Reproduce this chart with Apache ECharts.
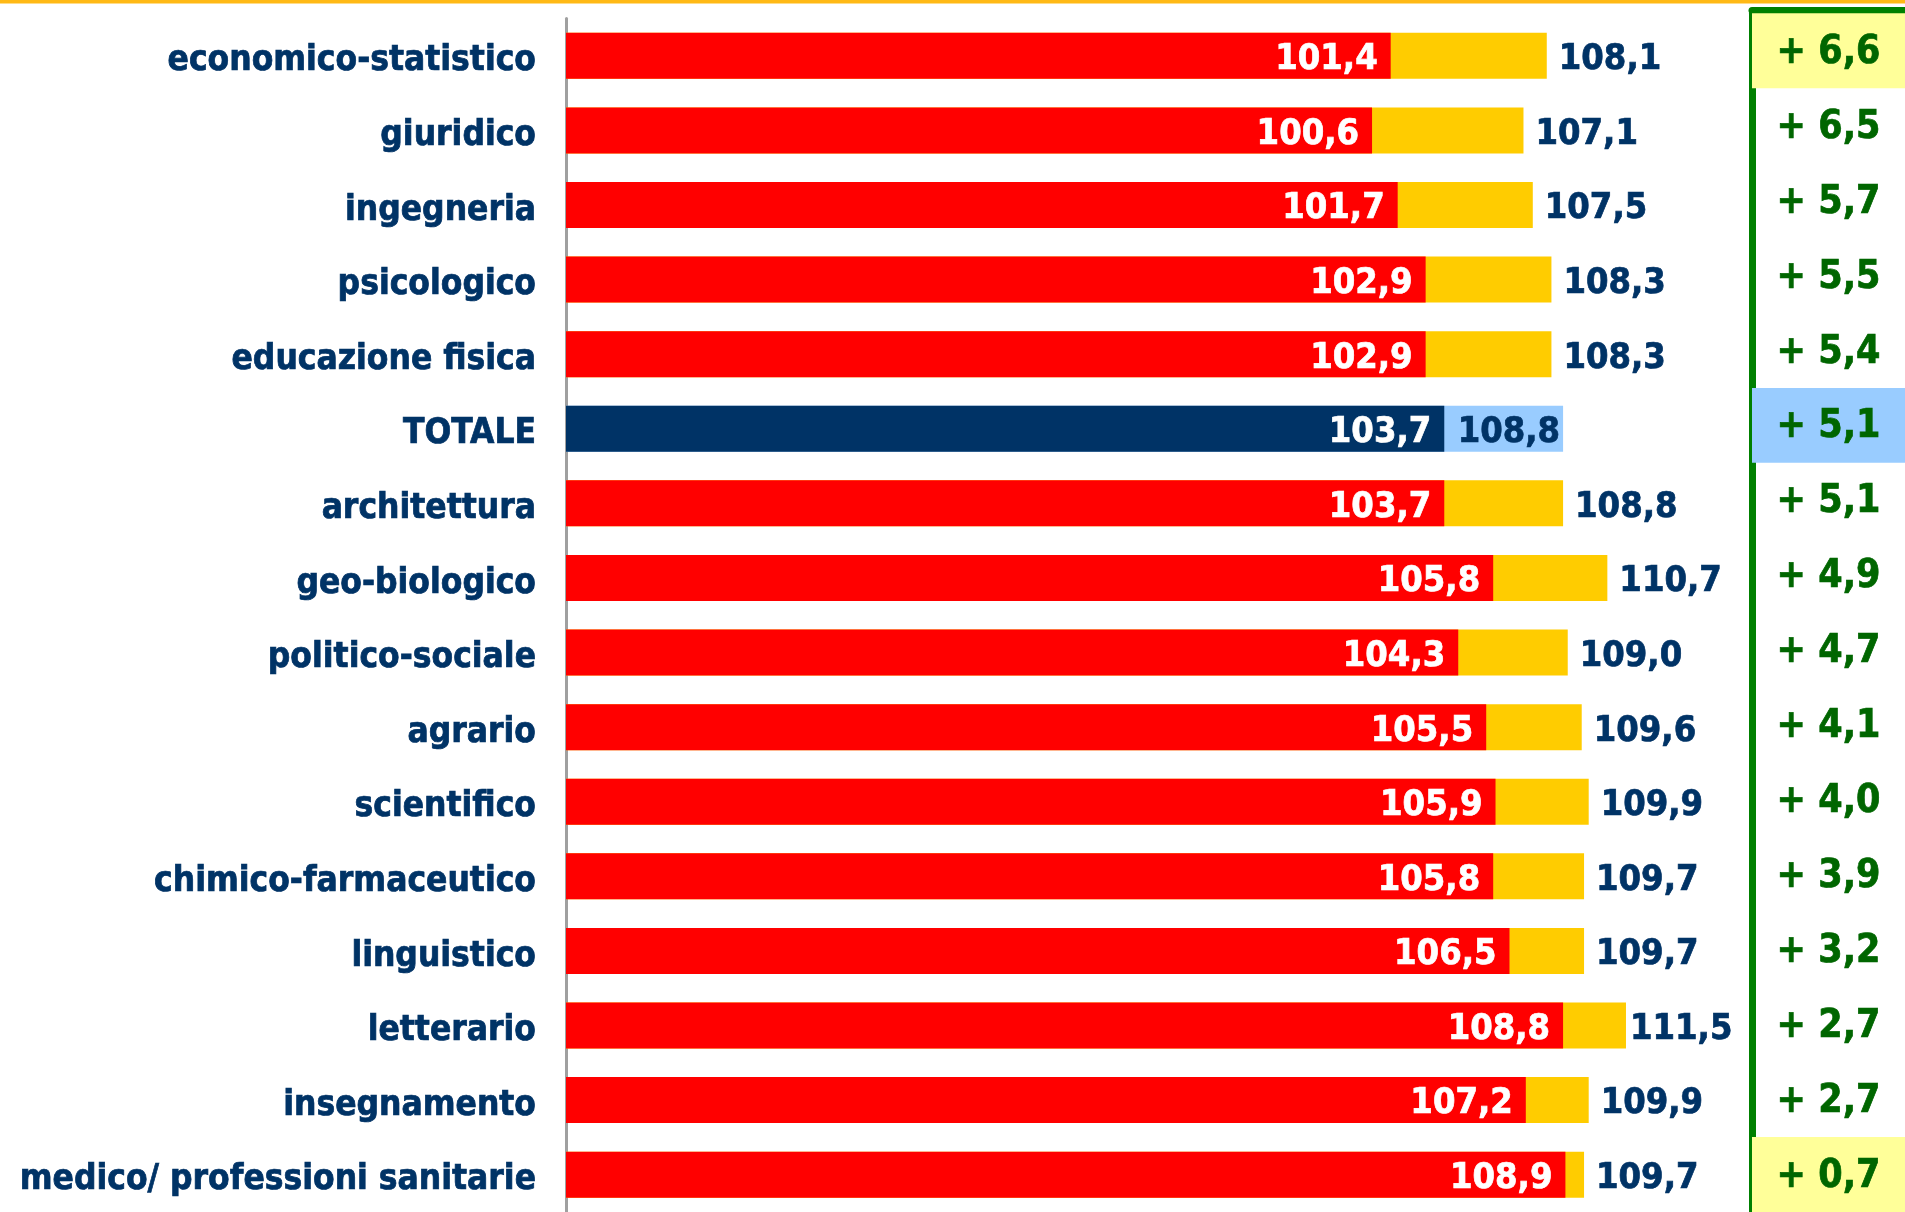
<!DOCTYPE html>
<html lang="it">

<head>
    <meta charset="UTF-8">
    <title>Voto di laurea per gruppo disciplinare</title>
    <style>
        * {
            margin: 0;
            padding: 0;
        }

        body {
            background: #fff;
        }

        #main {
            width: 1905px;
            height: 1212px;
        }
    </style>
</head>

<body>
    <div id="main"></div>
</body>

</html>
<script src="https://cdn.jsdelivr.net/npm/echarts@6/dist/echarts.min.js"></script>
<script>

    const categories = ['economico-statistico', 'giuridico', 'ingegneria', 'psicologico', 'educazione fisica',
        'TOTALE', 'architettura', 'geo-biologico', 'politico-sociale', 'agrario', 'scientifico',
        'chimico-farmaceutico', 'linguistico', 'letterario', 'insegnamento', 'medico/ professioni sanitarie'];

    // voto medio prima / dopo
    const votoPrima = [101.4, 100.6, 101.7, 102.9, 102.9, 103.7, 103.7, 105.8, 104.3, 105.5, 105.9, 105.8, 106.5, 108.8, 107.2, 108.9];
    const votoDopo = [108.1, 107.1, 107.5, 108.3, 108.3, 108.8, 108.8, 110.7, 109.0, 109.6, 109.9, 109.7, 109.7, 111.5, 109.9, 109.7];
    const differenza = [6.6, 6.5, 5.7, 5.5, 5.4, 5.1, 5.1, 4.9, 4.7, 4.1, 4.0, 3.9, 3.2, 2.7, 2.7, 0.7];

    const NAVY = '#003366';
    const GREEN = '#006600';
    const FONT = 'DejaVu Sans Condensed';

    function fmt(v) {
        return v.toFixed(1).replace('.', ',');
    }

    var idxTot = categories.indexOf('TOTALE');
    var idxMax = differenza.indexOf(Math.max.apply(null, differenza));
    var idxMin = differenza.lastIndexOf(Math.min.apply(null, differenza));

    var dopoData = votoDopo.map((v, i) => {
        if (i === idxTot) {
            return {
                value: v,
                itemStyle: { color: '#99CCFF' },
                label: { position: 'insideRight', distance: 3 }
            };
        }
        // etichetta spostata a sinistra vicino alla riga verde
        return v > 111 ? { value: v, label: { distance: 4 } } : v;
    });

    var primaData = votoPrima.map((v, i) => {
        if (i === idxTot) return { value: v, itemStyle: { color: NAVY } };
        return v;
    });

    var boxData = differenza.map((d, i) => {
        var c = 'rgba(0,0,0,0)';
        if (i === idxMax || i === idxMin) c = '#FFFF99';
        if (i === idxTot) c = '#99CCFF';
        return { value: 1, itemStyle: { color: c } };
    });

    var myChart = echarts.init(document.getElementById('main'));

    myChart.setOption({
        animation: false,
        graphic: [{
            type: 'rect',
            shape: { x: 0, y: 0, width: 1905, height: 3.5 },
            style: { fill: '#FFB915' },
            z: 10
        }],
        grid: [
            { left: 566, top: 18.5, width: 1258, height: 1197.6 },
            { left: 1752, right: 0, top: 13.3, height: 1205 }
        ],
        xAxis: [
            { gridIndex: 0, type: 'value', min: 66, max: 120, show: false },
            {
                gridIndex: 1, type: 'value', min: 0, max: 1, position: 'top', offset: 3.5,
                axisLine: { show: true, lineStyle: { color: '#008000', width: 7 } },
                axisTick: { show: false }, axisLabel: { show: false }, splitLine: { show: false }
            }
        ],
        yAxis: [
            {
                gridIndex: 0, type: 'category', inverse: true, data: categories,
                axisLine: { show: true, lineStyle: { color: '#A0A0A0', width: 3 } },
                axisTick: { show: false },
                axisLabel: {
                    margin: 30,
                    formatter: v => '{c|' + v + '}',
                    rich: {
                        c: {
                            color: NAVY, fontFamily: FONT, fontWeight: 'bold', fontSize: 35,
                            textBorderColor: NAVY, textBorderWidth: 0.7,
                            lineHeight: 46, verticalAlign: 'bottom'
                        }
                    }
                }
            },
            {
                gridIndex: 1, type: 'category', inverse: true, data: categories, offset: 4,
                axisLine: { show: true, lineStyle: { color: '#008000', width: 7 } },
                axisTick: { show: false }, axisLabel: { show: false }
            }
        ],
        series: [
            {
                name: 'dopo',
                type: 'bar',
                xAxisIndex: 0, yAxisIndex: 0,
                barWidth: 46,
                itemStyle: { color: '#FFCC00' },
                label: {
                    show: true, position: 'right', distance: 12, offset: [0, 4],
                    color: NAVY, fontFamily: FONT, fontWeight: 'bold', fontSize: 36,
                    textBorderColor: NAVY, textBorderWidth: 0.7,
                    formatter: p => fmt(p.value)
                },
                data: dopoData
            },
            {
                name: 'prima',
                type: 'bar',
                xAxisIndex: 0, yAxisIndex: 0,
                barWidth: 46,
                barGap: '-100%',
                itemStyle: { color: '#FF0000' },
                label: {
                    show: true, position: 'insideRight', distance: 13, offset: [0, 4],
                    color: '#fff', fontFamily: FONT, fontWeight: 'bold', fontSize: 36,
                    textBorderColor: '#fff', textBorderWidth: 0.7,
                    formatter: p => fmt(p.value)
                },
                data: primaData
            },
            {
                name: 'differenza',
                type: 'bar',
                xAxisIndex: 1, yAxisIndex: 1,
                barWidth: '100%',
                silent: true,
                label: {
                    show: true, position: 'inside', offset: [0, 2],
                    color: GREEN, fontFamily: FONT, fontWeight: 'bold', fontSize: 39,
                    textBorderColor: GREEN, textBorderWidth: 0.7,
                    formatter: p => '+ ' + fmt(differenza[p.dataIndex])
                },
                data: boxData
            }
        ]
    });

</script>
